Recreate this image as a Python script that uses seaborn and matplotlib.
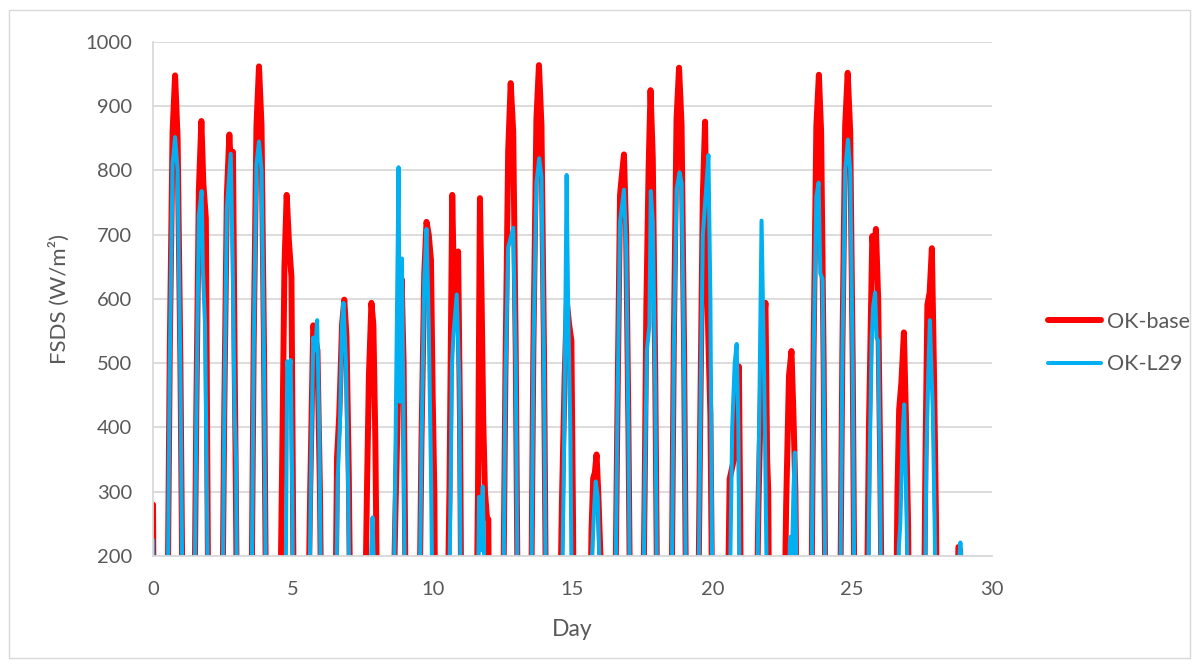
import matplotlib
matplotlib.use("Agg")
import matplotlib.pyplot as plt
import seaborn as sns
import pandas as pd
from matplotlib.patches import Rectangle

# ---------------- data ----------------
series_names = ["OK-base", "OK-L29"]

base_day = [
    0.00, 0.04,
    0.50, 0.60, 0.70, 0.79, 0.88, 0.98, 1.08,
    1.46, 1.55, 1.64, 1.73, 1.80, 1.89, 1.99,
    2.46, 2.55, 2.64, 2.73, 2.79, 2.86, 2.92, 2.96, 3.02,
    3.50, 3.60, 3.70, 3.79, 3.88, 3.97, 4.06,
    4.52, 4.62, 4.70, 4.78, 4.86, 4.95, 5.02, 5.05,
    5.52, 5.62, 5.73, 5.80, 5.88, 5.97, 6.04,
    6.50, 6.58, 6.66, 6.76, 6.84, 6.92, 7.00, 7.08,
    7.55, 7.65, 7.72, 7.81, 7.88, 7.95, 8.04,
    8.55, 8.66, 8.76, 8.82, 8.89, 8.96, 9.02, 9.04,
    9.50, 9.60, 9.70, 9.78, 9.86, 9.94, 10.00, 10.06, 10.10,
    10.50, 10.60, 10.70, 10.76, 10.84, 10.91, 10.98, 11.04,
    11.55, 11.62, 11.69, 11.75, 11.81, 11.87, 11.94, 11.99, 12.02,
    12.50, 12.60, 12.70, 12.79, 12.88, 12.97, 13.06,
    13.50, 13.60, 13.71, 13.80, 13.89, 13.98, 14.07,
    14.52, 14.62, 14.72, 14.80, 14.88, 14.96, 15.02, 15.05,
    15.60, 15.68, 15.74, 15.80, 15.86, 15.92, 16.00, 16.05,
    16.50, 16.60, 16.70, 16.76, 16.84, 16.92, 17.00, 17.08,
    17.50, 17.58, 17.64, 17.72, 17.79, 17.87, 17.96, 18.05,
    18.52, 18.62, 18.72, 18.81, 18.90, 18.99, 19.08,
    19.47, 19.57, 19.66, 19.74, 19.80, 19.86, 19.93, 20.02,
    20.52, 20.62, 20.72, 20.81, 20.88, 20.95, 21.00, 21.03,
    21.55, 21.65, 21.75, 21.83, 21.90, 21.96, 22.00, 22.04,
    22.55, 22.64, 22.74, 22.83, 22.90, 22.97, 23.04,
    23.52, 23.62, 23.72, 23.81, 23.89, 23.98, 24.06,
    24.55, 24.65, 24.75, 24.84, 24.93, 25.02, 25.10,
    25.50, 25.60, 25.72, 25.78, 25.85, 25.93, 26.01, 26.08,
    26.55, 26.62, 26.68, 26.76, 26.85, 26.92, 27.00, 27.05,
    27.55, 27.62, 27.69, 27.77, 27.85, 27.92, 28.00, 28.05,
    28.70, 28.80, 28.86, 28.92,
]
base_fsds = [
    280, 0,
    0, 520, 860, 948, 850, 500, 0,
    0, 430, 770, 877, 780, 725, 0,
    0, 430, 760, 856, 800, 829, 500, 320, 0,
    0, 530, 870, 962, 870, 520, 0,
    0, 350, 650, 762, 690, 634, 200, 0,
    0, 300, 559, 540, 520, 300, 0,
    0, 353, 420, 560, 599, 540, 330, 0,
    0, 300, 480, 594, 560, 380, 0,
    0, 250, 440, 560, 631, 503, 200, 0,
    0, 380, 640, 720, 700, 660, 450, 300, 0,
    0, 300, 762, 620, 560, 674, 400, 0,
    0, 300, 757, 600, 407, 300, 260, 257, 0,
    0, 480, 830, 936, 860, 520, 0,
    0, 520, 880, 964, 870, 520, 0,
    0, 280, 480, 594, 560, 535, 250, 0,
    0, 240, 321, 330, 358, 300, 200, 0,
    0, 400, 762, 790, 825, 700, 400, 0,
    0, 300, 586, 800, 925, 820, 480, 0,
    0, 520, 880, 960, 870, 520, 0,
    0, 420, 760, 876, 650, 535, 420, 0,
    0, 320, 340, 359, 450, 495, 250, 0,
    0, 280, 480, 560, 594, 350, 300, 0,
    0, 280, 480, 519, 420, 300, 0,
    0, 520, 870, 949, 860, 500, 0,
    0, 520, 870, 952, 860, 500, 0,
    0, 400, 698, 670, 709, 600, 320, 0,
    0, 300, 428, 470, 548, 420, 250, 0,
    0, 350, 591, 610, 679, 500, 250, 0,
    0, 214, 210, 0,
]

l29_day = [
    0.00, 0.03,
    0.50, 0.60, 0.70, 0.79, 0.88, 0.98, 1.08,
    1.46, 1.55, 1.64, 1.74, 1.78, 1.86, 1.95, 1.99,
    2.46, 2.55, 2.64, 2.78, 2.85, 2.92, 2.97, 3.02,
    3.50, 3.60, 3.70, 3.79, 3.88, 3.97, 4.06,
    4.72, 4.80, 4.86, 4.92, 4.98, 5.03,
    5.55, 5.65, 5.73, 5.80, 5.87, 5.95, 6.03,
    6.52, 6.60, 6.68, 6.76, 6.81, 6.90, 6.98, 7.06,
    7.72, 7.80, 7.85, 7.90, 7.96,
    8.58, 8.68, 8.78, 8.83, 8.90, 8.96, 9.03,
    9.50, 9.60, 9.70, 9.78, 9.86, 9.94, 10.02,
    10.55, 10.64, 10.69, 10.75, 10.86, 10.95, 11.02,
    11.58, 11.66, 11.73, 11.79, 11.86, 11.92,
    12.50, 12.60, 12.70, 12.82, 12.88, 12.97, 13.06,
    13.50, 13.60, 13.71, 13.81, 13.89, 13.98, 14.07,
    14.58, 14.68, 14.74, 14.79, 14.84, 14.92, 15.00,
    15.62, 15.70, 15.78, 15.83, 15.90, 15.97, 16.02,
    16.50, 16.60, 16.70, 16.84, 16.92, 17.00, 17.08,
    17.50, 17.58, 17.66, 17.75, 17.80, 17.87, 17.96, 18.05,
    18.52, 18.62, 18.72, 18.83, 18.90, 18.99, 19.08,
    19.47, 19.57, 19.66, 19.76, 19.86, 19.93, 20.02,
    20.58, 20.66, 20.71, 20.80, 20.87, 20.93, 21.00,
    21.58, 21.66, 21.76, 21.82, 21.88, 21.95, 21.99,
    22.70, 22.77, 22.80, 22.85, 22.90, 22.95, 23.00, 23.03,
    23.52, 23.62, 23.72, 23.80, 23.86, 23.94, 24.00, 24.06,
    24.55, 24.65, 24.75, 24.85, 24.93, 25.02, 25.10,
    25.53, 25.63, 25.70, 25.75, 25.82, 25.87, 25.93, 26.00, 26.06,
    26.62, 26.67, 26.72, 26.80, 26.86, 26.93, 27.00, 27.04,
    27.58, 27.65, 27.72, 27.78, 27.84, 27.88, 27.95, 28.02,
    28.74, 28.82, 28.87, 28.92, 28.97,
]
l29_fsds = [
    225, 0,
    0, 500, 810, 852, 800, 480, 0,
    0, 420, 730, 768, 650, 560, 200, 0,
    0, 420, 740, 826, 650, 420, 348, 0,
    0, 520, 810, 845, 800, 500, 0,
    0, 503, 480, 505, 300, 0,
    0, 330, 540, 520, 567, 380, 0,
    0, 316, 400, 560, 594, 500, 300, 0,
    0, 200, 260, 180, 0,
    0, 400, 805, 440, 663, 400, 0,
    0, 370, 630, 709, 560, 330, 0,
    0, 300, 498, 548, 607, 476, 0,
    0, 292, 209, 308, 150, 0,
    0, 470, 680, 700, 711, 500, 0,
    0, 510, 780, 819, 790, 500, 0,
    0, 300, 550, 793, 600, 400, 0,
    0, 200, 280, 316, 292, 180, 0,
    0, 400, 720, 770, 680, 390, 0,
    0, 300, 520, 559, 768, 720, 460, 0,
    0, 510, 770, 797, 780, 500, 0,
    0, 400, 700, 760, 824, 600, 0,
    0, 250, 399, 500, 530, 400, 0,
    0, 350, 722, 560, 400, 150, 0,
    0, 220, 230, 200, 300, 361, 200, 0,
    0, 510, 760, 781, 640, 631, 380, 0,
    0, 510, 800, 848, 800, 490, 0,
    0, 360, 540, 588, 610, 540, 535, 300, 0,
    0, 214, 250, 380, 436, 300, 120, 0,
    0, 350, 480, 567, 480, 433, 250, 0,
    0, 190, 221, 180, 0,
]

x_ticks = [0, 5, 10, 15, 20, 25, 30]
y_ticks = [200, 300, 400, 500, 600, 700, 800, 900, 1000]

# ---------------- style ----------------
sns.set_theme(style="white")
plt.rcParams["font.family"] = ["Lato", "DejaVu Sans"]
TXT = "#595959"
GRID = "#d9d9d9"

df_base = pd.DataFrame({"Day": base_day, "FSDS": base_fsds})
df_l29 = pd.DataFrame({"Day": l29_day, "FSDS": l29_fsds})

fig = plt.figure(figsize=(11.98, 6.66), dpi=100)
ax = fig.add_axes([153 / 1198, 1 - 556 / 666, (992 - 153) / 1198, (556 - 42) / 666])

sns.lineplot(data=df_base, x="Day", y="FSDS", ax=ax, color="#FF0000", linewidth=4.3,
             sort=False, estimator=None, label=series_names[0],
             solid_joinstyle="round", solid_capstyle="round")
sns.lineplot(data=df_l29, x="Day", y="FSDS", ax=ax, color="#00B0F0", linewidth=2.9,
             sort=False, estimator=None, label=series_names[1],
             solid_joinstyle="round", solid_capstyle="round")

ax.set_xlim(0, 30)
ax.set_ylim(200, 1000)
ax.set_xticks(x_ticks)
ax.set_yticks(y_ticks)
ax.yaxis.grid(True, color=GRID, linewidth=1.3)
ax.xaxis.grid(False)
ax.set_axisbelow(True)
for s in ["top", "right"]:
    ax.spines[s].set_visible(False)
for s in ["left", "bottom"]:
    ax.spines[s].set_color(GRID)
    ax.spines[s].set_linewidth(1.3)
ax.tick_params(axis="both", length=0, labelcolor=TXT, labelsize=14.5)
ax.tick_params(axis="y", pad=15)
ax.tick_params(axis="x", pad=18)

ax.set_xlabel("Day", color=TXT, fontsize=16.5, labelpad=15)
ax.set_ylabel("FSDS (W/m\u00b2)", color=TXT, fontsize=16, labelpad=11)

ax.get_legend().remove()
handles, labels = ax.get_legend_handles_labels()
fig.legend(handles, labels, loc="center left", bbox_to_anchor=(1029 / 1198, 1 - 343 / 666),
           frameon=False, fontsize=15.5, labelcolor=TXT, handlelength=2.45,
           labelspacing=1.05, handletextpad=0.25)

fig.add_artist(Rectangle((9 / 1198, 8 / 666), (1190 - 9) / 1198, (656 - 8) / 666,
                         transform=fig.transFigure, fill=False, edgecolor=GRID, linewidth=1))

fig.savefig("out.png", dpi=100)
